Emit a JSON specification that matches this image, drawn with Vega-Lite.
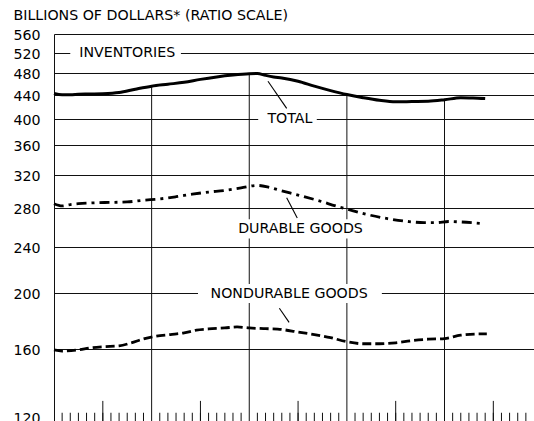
{
  "$schema": "https://vega.github.io/schema/vega-lite/v6.json",
  "width": 480,
  "height": 387,
  "autosize": {"type": "none"},
  "padding": {"left": 54, "top": 34, "right": 0, "bottom": 0},
  "background": "white",
  "config": {"view": {"stroke": null}, "font": "DejaVu Sans"},
  "datasets": {
    "series": [
      {"series": "Total", "m": 0, "v": 442},
      {"series": "Total", "m": 1, "v": 439.5},
      {"series": "Total", "m": 2, "v": 439.5},
      {"series": "Total", "m": 3, "v": 440.5},
      {"series": "Total", "m": 4, "v": 441},
      {"series": "Total", "m": 6, "v": 441.5},
      {"series": "Total", "m": 8, "v": 443.5},
      {"series": "Total", "m": 10, "v": 449.5},
      {"series": "Total", "m": 12, "v": 455},
      {"series": "Total", "m": 14, "v": 458.5},
      {"series": "Total", "m": 16, "v": 462},
      {"series": "Total", "m": 18, "v": 467.5},
      {"series": "Total", "m": 20, "v": 472},
      {"series": "Total", "m": 22, "v": 475.5},
      {"series": "Total", "m": 24, "v": 478},
      {"series": "Total", "m": 25, "v": 478.5},
      {"series": "Total", "m": 26, "v": 475},
      {"series": "Total", "m": 27, "v": 472},
      {"series": "Total", "m": 28, "v": 470},
      {"series": "Total", "m": 30, "v": 464},
      {"series": "Total", "m": 32, "v": 455},
      {"series": "Total", "m": 34, "v": 447},
      {"series": "Total", "m": 36, "v": 440},
      {"series": "Total", "m": 38, "v": 434.5},
      {"series": "Total", "m": 40, "v": 430},
      {"series": "Total", "m": 42, "v": 427.5},
      {"series": "Total", "m": 44, "v": 428},
      {"series": "Total", "m": 46, "v": 428.5},
      {"series": "Total", "m": 48, "v": 431},
      {"series": "Total", "m": 50, "v": 434.5},
      {"series": "Total", "m": 51.5, "v": 434},
      {"series": "Total", "m": 53, "v": 433},
      {"series": "Durable", "m": 0, "v": 285},
      {"series": "Durable", "m": 1, "v": 282.5},
      {"series": "Durable", "m": 2, "v": 284},
      {"series": "Durable", "m": 3, "v": 285},
      {"series": "Durable", "m": 5, "v": 286},
      {"series": "Durable", "m": 7, "v": 286.5},
      {"series": "Durable", "m": 9, "v": 287},
      {"series": "Durable", "m": 11, "v": 289},
      {"series": "Durable", "m": 13, "v": 290.5},
      {"series": "Durable", "m": 15, "v": 293},
      {"series": "Durable", "m": 17, "v": 296},
      {"series": "Durable", "m": 19, "v": 298.5},
      {"series": "Durable", "m": 21, "v": 300.5},
      {"series": "Durable", "m": 23, "v": 303.5},
      {"series": "Durable", "m": 25, "v": 306.5},
      {"series": "Durable", "m": 26.5, "v": 304},
      {"series": "Durable", "m": 28, "v": 300},
      {"series": "Durable", "m": 30, "v": 295},
      {"series": "Durable", "m": 32.5, "v": 288.5},
      {"series": "Durable", "m": 35, "v": 281.5},
      {"series": "Durable", "m": 36, "v": 279},
      {"series": "Durable", "m": 38.5, "v": 273},
      {"series": "Durable", "m": 41, "v": 268.5},
      {"series": "Durable", "m": 43.5, "v": 265.5},
      {"series": "Durable", "m": 45.5, "v": 264.3},
      {"series": "Durable", "m": 47, "v": 264.3},
      {"series": "Durable", "m": 48.5, "v": 265.5},
      {"series": "Durable", "m": 50, "v": 265},
      {"series": "Durable", "m": 52.5, "v": 263.5},
      {"series": "Nondurable", "m": 0, "v": 159.2},
      {"series": "Nondurable", "m": 1, "v": 158.5},
      {"series": "Nondurable", "m": 3, "v": 159.3},
      {"series": "Nondurable", "m": 4.5, "v": 160.6},
      {"series": "Nondurable", "m": 6, "v": 161.3},
      {"series": "Nondurable", "m": 8, "v": 161.8},
      {"series": "Nondurable", "m": 9.5, "v": 163.8},
      {"series": "Nondurable", "m": 11, "v": 166.4},
      {"series": "Nondurable", "m": 12.5, "v": 168.2},
      {"series": "Nondurable", "m": 14.3, "v": 169.3},
      {"series": "Nondurable", "m": 16, "v": 170.4},
      {"series": "Nondurable", "m": 17.5, "v": 172.3},
      {"series": "Nondurable", "m": 19, "v": 173.1},
      {"series": "Nondurable", "m": 21, "v": 173.8},
      {"series": "Nondurable", "m": 22.5, "v": 174.5},
      {"series": "Nondurable", "m": 24, "v": 173.8},
      {"series": "Nondurable", "m": 26, "v": 173.3},
      {"series": "Nondurable", "m": 27.5, "v": 173},
      {"series": "Nondurable", "m": 30, "v": 171},
      {"series": "Nondurable", "m": 32, "v": 169.3},
      {"series": "Nondurable", "m": 34, "v": 167.2},
      {"series": "Nondurable", "m": 36, "v": 164.5},
      {"series": "Nondurable", "m": 38, "v": 163.2},
      {"series": "Nondurable", "m": 40, "v": 163.2},
      {"series": "Nondurable", "m": 42, "v": 163.8},
      {"series": "Nondurable", "m": 44, "v": 165.3},
      {"series": "Nondurable", "m": 46, "v": 166.2},
      {"series": "Nondurable", "m": 48, "v": 166.6},
      {"series": "Nondurable", "m": 50, "v": 168.9},
      {"series": "Nondurable", "m": 52.4, "v": 169.7},
      {"series": "Nondurable", "m": 53.2, "v": 169.7}
    ],
    "years": [
      {"m": 12, "top": 455},
      {"m": 24, "top": 478},
      {"m": 36, "top": 440},
      {"m": 48, "top": 431}
    ],
    "months": [
      {"m": 1}, {"m": 2}, {"m": 3}, {"m": 4}, {"m": 5}, {"m": 6}, {"m": 7}, {"m": 8}, {"m": 9}, {"m": 10}, {"m": 11},
      {"m": 13}, {"m": 14}, {"m": 15}, {"m": 16}, {"m": 17}, {"m": 18}, {"m": 19}, {"m": 20}, {"m": 21}, {"m": 22}, {"m": 23},
      {"m": 25}, {"m": 26}, {"m": 27}, {"m": 28}, {"m": 29}, {"m": 30}, {"m": 31}, {"m": 32}, {"m": 33}, {"m": 34}, {"m": 35},
      {"m": 37}, {"m": 38}, {"m": 39}, {"m": 40}, {"m": 41}, {"m": 42}, {"m": 43}, {"m": 44}, {"m": 45}, {"m": 46}, {"m": 47},
      {"m": 49}, {"m": 50}, {"m": 51}, {"m": 52}, {"m": 53}, {"m": 54}, {"m": 55}, {"m": 56}, {"m": 57}, {"m": 58}
    ],
    "midyears": [{"m": 6}, {"m": 18}, {"m": 30}, {"m": 42}, {"m": 54}],
    "labels": [
      {"label": "INVENTORIES", "m": 9.0, "v": 520, "m1": 2.0, "m2": 15.6, "v1": 510, "v2": 530},
      {"label": "TOTAL", "m": 29.0, "v": 400, "m1": 25.1, "m2": 32.3, "v1": 392, "v2": 408},
      {"label": "DURABLE GOODS", "m": 30.3, "v": 258, "m1": 21.9, "m2": 38.7, "v1": 248.2, "v2": 268},
      {"label": "NONDURABLE GOODS", "m": 28.9, "v": 199, "m1": 17.7, "m2": 40.3, "v1": 192, "v2": 207}
    ],
    "arrows": [
      {"m": 26.3, "v": 464, "m2": 28.6, "v2": 416.6},
      {"m": 28.6, "v": 291.7, "m2": 29.9, "v2": 269.1},
      {"m": 28.9, "v": 177.7, "m2": 27.7, "v2": 188}
    ]
  },
  "layer": [
    {
      "data": {"name": "years"},
      "mark": {"type": "rule", "color": "#111", "strokeWidth": 1},
      "encoding": {
        "x": {"field": "m", "type": "quantitative", "scale": {"domain": [0, 59], "nice": false, "zero": false}, "axis": null},
        "y": {
          "field": "top", "type": "quantitative",
          "scale": {"type": "log", "domain": [120, 560], "nice": false},
          "axis": {
            "values": [120, 160, 200, 240, 280, 320, 360, 400, 440, 480, 520, 560],
            "format": "d",
            "grid": true, "gridColor": "#111", "gridWidth": 1,
            "domain": true, "domainColor": "#111", "domainWidth": 1,
            "ticks": false, "tickSize": 0,
            "labelPadding": 14, "labelFont": "DejaVu Sans", "labelFontSize": 14.2, "labelColor": "black",
            "labelBaseline": {"condition": {"test": "datum.value == 120", "value": "alphabetic"}, "value": "middle"},
            "labelOffset": 1.5, "labelOverlap": false, "labelFlush": false,
            "title": "BILLIONS OF DOLLARS*  (RATIO SCALE)",
            "titleAngle": 0, "titleAlign": "left", "titleBaseline": "middle",
            "titleX": -41, "titleY": -19,
            "titleFont": "DejaVu Sans", "titleFontSize": 14.2, "titleFontWeight": "normal", "titleColor": "black"
          }
        },
        "y2": {"datum": 120}
      }
    },
    {
      "data": {"name": "months"},
      "mark": {"type": "rule", "color": "#111", "strokeWidth": 1},
      "encoding": {
        "x": {"field": "m", "type": "quantitative"},
        "y": {"datum": 120, "type": "quantitative"},
        "y2": {"datum": 124}
      }
    },
    {
      "data": {"name": "midyears"},
      "mark": {"type": "rule", "color": "#111", "strokeWidth": 1},
      "encoding": {
        "x": {"field": "m", "type": "quantitative"},
        "y": {"datum": 120, "type": "quantitative"},
        "y2": {"datum": 130}
      }
    },
    {
      "data": {"name": "labels"},
      "mark": {"type": "rect", "color": "white"},
      "encoding": {
        "x": {"field": "m1", "type": "quantitative"},
        "x2": {"field": "m2"},
        "y": {"field": "v1", "type": "quantitative"},
        "y2": {"field": "v2"}
      }
    },
    {
      "data": {"name": "labels"},
      "mark": {"type": "text", "font": "DejaVu Sans", "fontSize": 14.2, "baseline": "middle", "align": "center", "color": "black"},
      "encoding": {
        "x": {"field": "m", "type": "quantitative"},
        "y": {"field": "v", "type": "quantitative"},
        "text": {"field": "label"}
      }
    },
    {
      "data": {"name": "arrows"},
      "mark": {"type": "rule", "color": "black", "strokeWidth": 1.1},
      "encoding": {
        "x": {"field": "m", "type": "quantitative"},
        "y": {"field": "v", "type": "quantitative"},
        "x2": {"field": "m2"},
        "y2": {"field": "v2"}
      }
    },
    {
      "mark": {"type": "point", "shape": "M0,0L-0.4,1L0.4,1Z", "filled": true, "color": "black", "size": 220, "angle": 327, "opacity": 1},
      "encoding": {
        "x": {"datum": 26.3, "type": "quantitative"},
        "y": {"datum": 464, "type": "quantitative"}
      }
    },
    {
      "mark": {"type": "point", "shape": "M0,0L-0.4,1L0.4,1Z", "filled": true, "color": "black", "size": 220, "angle": 332, "opacity": 1},
      "encoding": {
        "x": {"datum": 28.6, "type": "quantitative"},
        "y": {"datum": 291.7, "type": "quantitative"}
      }
    },
    {
      "mark": {"type": "point", "shape": "M0,0L-0.4,1L0.4,1Z", "filled": true, "color": "black", "size": 220, "angle": 143, "opacity": 1},
      "encoding": {
        "x": {"datum": 28.9, "type": "quantitative"},
        "y": {"datum": 177.7, "type": "quantitative"}
      }
    },
    {
      "data": {"name": "series"},
      "transform": [{"filter": "datum.series == 'Total'"}],
      "mark": {"type": "line", "color": "black", "strokeWidth": 3, "interpolate": "monotone"},
      "encoding": {
        "x": {"field": "m", "type": "quantitative"},
        "y": {"field": "v", "type": "quantitative"}
      }
    },
    {
      "data": {"name": "series"},
      "transform": [{"filter": "datum.series == 'Durable'"}],
      "mark": {"type": "line", "color": "black", "strokeWidth": 2.8, "strokeDash": [10, 5, 3, 5], "interpolate": "monotone"},
      "encoding": {
        "x": {"field": "m", "type": "quantitative"},
        "y": {"field": "v", "type": "quantitative"}
      }
    },
    {
      "data": {"name": "series"},
      "transform": [{"filter": "datum.series == 'Nondurable'"}],
      "mark": {"type": "line", "color": "black", "strokeWidth": 2.8, "strokeDash": [9, 4], "interpolate": "monotone"},
      "encoding": {
        "x": {"field": "m", "type": "quantitative"},
        "y": {"field": "v", "type": "quantitative"}
      }
    }
  ]
}
